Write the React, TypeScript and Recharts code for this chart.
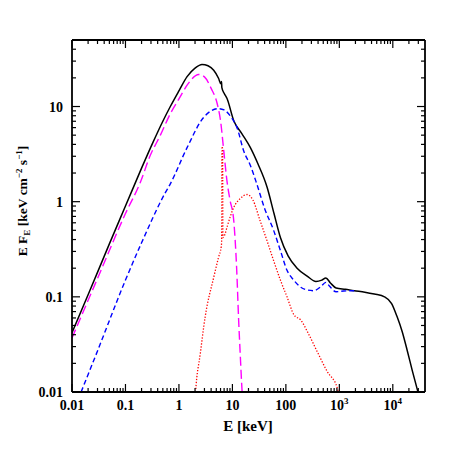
import React from "react";
import { LineChart, Line, XAxis, YAxis } from "recharts";

// total spectrum (black)
const totalE = [0.01, 0.02, 0.05, 0.1, 0.2, 0.33, 0.5, 0.69, 1, 1.42, 2, 2.7, 3.5, 4.47, 5.5, 6.1, 6.25, 6.35, 7, 7.9, 10.6, 15, 21.7, 30, 44.7, 60, 79, 110, 162, 250, 365, 470, 560, 680, 870, 1300, 1900, 3000, 4500, 7000, 9500, 12000, 15000, 18700, 23000, 29000, 32000];
const totalF = [0.042, 0.105, 0.36, 0.9, 2.25, 4.25, 7.0, 10.0, 14.6, 20.6, 25.3, 27.7, 26.8, 24.0, 19.8, 17.3, 18.3, 15.8, 13.8, 12.2, 7.1, 5.2, 3.7, 2.5, 1.41, 0.75, 0.42, 0.27, 0.2, 0.165, 0.145, 0.15, 0.158, 0.14, 0.124, 0.12, 0.116, 0.112, 0.107, 0.1, 0.085, 0.062, 0.043, 0.027, 0.017, 0.0104, 0.0085];

// thermal component (magenta)
const thermE = [0.01, 0.03, 0.1, 0.19, 0.29, 0.45, 0.69, 1, 1.5, 2.34, 3, 4, 5.2, 6, 6.9, 7.9, 9, 10.6, 12, 13.1, 14, 15.2, 15.6];
const thermF = [0.037, 0.156, 0.75, 1.6, 3.05, 5.0, 8.4, 12, 17.5, 21.7, 20.5, 15.5, 10.7, 7.1, 3.4, 1.66, 1.05, 0.63, 0.2, 0.056, 0.025, 0.01, 0.008];

// comptonized component (blue)
const compE = [0.0148, 0.03, 0.1, 0.2, 0.55, 0.69, 1.42, 2.9, 4, 5.5, 7, 9.5, 12.2, 16.3, 21.7, 29, 40, 59, 80, 105, 140, 190, 250, 330, 450, 560, 650, 870, 1200, 1660, 2000];
const compF = [0.01, 0.027, 0.15, 0.37, 1.23, 1.54, 3.7, 7.7, 9.0, 9.5, 9.2, 7.7, 6.0, 3.4, 2.4, 1.5, 0.85, 0.5, 0.3, 0.19, 0.15, 0.126, 0.118, 0.116, 0.128, 0.142, 0.13, 0.113, 0.115, 0.116, 0.116];

// reflection component (red)
const reflE = [2.0, 2.05, 2.5, 3.1, 4.47, 5.5, 6.2, 6.3, 6.38, 6.55, 6.65, 7.2, 8, 10.6, 14, 18.8, 24, 33, 45, 59, 79, 105, 141, 190, 270, 380, 590, 920, 1000];
const reflF = [0.008, 0.01, 0.025, 0.062, 0.16, 0.26, 0.34, 0.4, 3.8, 3.6, 0.42, 0.45, 0.55, 0.87, 1.08, 1.19, 1.05, 0.63, 0.38, 0.24, 0.15, 0.1, 0.065, 0.057, 0.04, 0.027, 0.0165, 0.0109, 0.009];

const xMajor = [0.01, 0.1, 1, 10, 100, 1000, 10000];
const xLabels = ["0.01", "0.1", "1", "10", "100", "10^3", "10^4"];
const yMajor = [0.01, 0.1, 1, 10];
const yLabels = ["0.01", "0.1", "1", "10"];

const X_DOMAIN = [0.01, 40000];
const Y_DOMAIN = [0.01, 50];

const toData = (es: number[], fs: number[]) => es.map((e, i) => ({ e, f: fs[i] }));

const withMinor = (majors: number[], max: number) => {
  const out: number[] = [];
  majors.forEach((m) => {
    for (let k = 1; k <= 9; k++) {
      const v = +(m * k).toPrecision(6);
      if (v < max) out.push(v);
    }
  });
  return out;
};

const xTicks = withMinor(xMajor, X_DOMAIN[1]);
const yTicks = withMinor(yMajor, Y_DOMAIN[1]);

const FONT = "'Liberation Serif', 'DejaVu Serif', serif";

function Label({ text, ...rest }: any) {
  const [base, exp] = text.split("^");
  return (
    <text {...rest} fontFamily={FONT} fontSize={14} fontWeight="bold" fill="#000">
      {base}
      {exp && (
        <tspan dy={-6} fontSize={9}>
          {exp}
        </tspan>
      )}
    </text>
  );
}

function AxisTick(props: any) {
  const { x, y, payload, side } = props;
  const v = payload.value;
  const lg = Math.log10(v);
  const major = Math.abs(lg - Math.round(lg)) < 1e-6;
  const len = major ? 8 : 4;
  let x2 = x;
  let y2 = y;
  if (side === "bottom") y2 = y - len;
  if (side === "top") y2 = y + len;
  if (side === "left") x2 = x + len;
  if (side === "right") x2 = x - len;
  let label = null;
  if (major && side === "bottom") {
    const i = xMajor.findIndex((m) => Math.abs(Math.log10(m) - lg) < 1e-6);
    if (i >= 0) label = <Label text={xLabels[i]} x={x} y={y + 18} textAnchor="middle" />;
  }
  if (major && side === "left") {
    const i = yMajor.findIndex((m) => Math.abs(Math.log10(m) - lg) < 1e-6);
    if (i >= 0) label = <Label text={yLabels[i]} x={x - 9} y={y + 5} textAnchor="end" />;
  }
  return (
    <g>
      <line x1={x} y1={y} x2={x2} y2={y2} stroke="#000" strokeWidth={1.2} />
      {label}
    </g>
  );
}

const axisLine = { stroke: "#000", strokeWidth: 1.8 };

export default function App() {
  return (
    <div style={{ position: "relative", width: 447, height: 447 }}>
      <LineChart width={447} height={447} margin={{ top: 31, left: 63, right: 29, bottom: 62 }}>
        <XAxis
          xAxisId="b"
          dataKey="e"
          type="number"
          scale="log"
          domain={X_DOMAIN}
          allowDataOverflow
          ticks={xTicks}
          interval={0}
          height={1}
          tickSize={0}
          tickMargin={0}
          axisLine={axisLine}
          tick={(p: any) => <AxisTick {...p} side="bottom" />}
        />
        <XAxis
          xAxisId="t"
          orientation="top"
          dataKey="e"
          type="number"
          scale="log"
          domain={X_DOMAIN}
          allowDataOverflow
          ticks={xTicks}
          interval={0}
          height={1}
          tickSize={0}
          tickMargin={0}
          axisLine={axisLine}
          tick={(p: any) => <AxisTick {...p} side="top" />}
        />
        <YAxis
          yAxisId="l"
          type="number"
          scale="log"
          domain={Y_DOMAIN}
          allowDataOverflow
          ticks={yTicks}
          interval={0}
          width={1}
          tickSize={0}
          tickMargin={0}
          axisLine={axisLine}
          tick={(p: any) => <AxisTick {...p} side="left" />}
        />
        <YAxis
          yAxisId="r"
          orientation="right"
          type="number"
          scale="log"
          domain={Y_DOMAIN}
          allowDataOverflow
          ticks={yTicks}
          interval={0}
          width={1}
          tickSize={0}
          tickMargin={0}
          axisLine={axisLine}
          tick={(p: any) => <AxisTick {...p} side="right" />}
        />
        <Line xAxisId="b" yAxisId="l" data={toData(totalE, totalF)} dataKey="f" type="monotone" stroke="#000" strokeWidth={1.5} dot={false} isAnimationActive={false} />
        <Line xAxisId="b" yAxisId="l" data={toData(thermE, thermF)} dataKey="f" type="monotone" stroke="#ff00ff" strokeWidth={1.4} strokeDasharray="9 4" dot={false} isAnimationActive={false} />
        <Line xAxisId="b" yAxisId="l" data={toData(compE, compF)} dataKey="f" type="monotone" stroke="#0000ff" strokeWidth={1.4} strokeDasharray="5 3" dot={false} isAnimationActive={false} />
        <Line xAxisId="b" yAxisId="l" data={toData(reflE, reflF)} dataKey="f" type="monotone" stroke="#ff0000" strokeWidth={1.3} strokeDasharray="1.3 1.7" dot={false} isAnimationActive={false} />
      </LineChart>
      <svg width={447} height={447} style={{ position: "absolute", left: 0, top: 0, pointerEvents: "none" }}>
        <text x={240} y={423} textAnchor="middle" fontFamily={FONT} fontSize={15} fontWeight="bold">
          E [keV]
        </text>
        <text transform="translate(19,193) rotate(-90)" textAnchor="middle" fontFamily={FONT} fontSize={13.5} fontWeight="bold">
          E F<tspan dy={3} fontSize={9}>E</tspan>
          <tspan dy={-3}> [keV cm</tspan>
          <tspan dy={-5} fontSize={9}>−2</tspan>
          <tspan dy={5}> s</tspan>
          <tspan dy={-5} fontSize={9}>−1</tspan>
          <tspan dy={5}>]</tspan>
        </text>
      </svg>
    </div>
  );
}
